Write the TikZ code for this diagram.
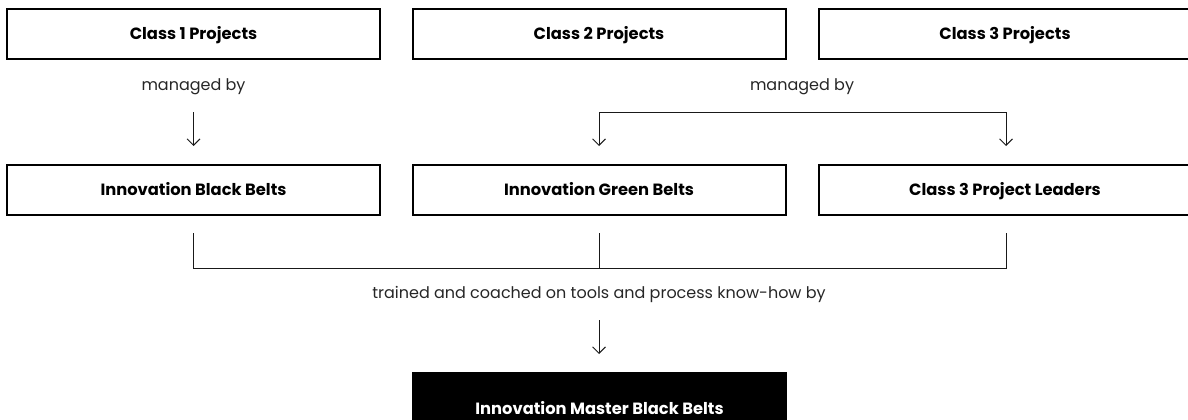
\documentclass[tikz,border=0pt]{standalone}
\usepackage{fontspec}
\setmainfont{Poppins}
\usetikzlibrary{arrows.meta}
\begin{document}
\begin{tikzpicture}[x=1pt,y=-1pt,
  box/.style={draw=black, line width=2pt, minimum width=373pt, minimum height=50pt, inner sep=0pt,
    text height=11.5pt, text depth=0pt,
    font=\fontsize{16.3}{18}\selectfont\bfseries},
  darkbox/.style={fill=black, text=white, minimum width=375pt, minimum height=74pt, inner sep=0pt,
    text height=11.5pt, text depth=0pt,
    font=\fontsize{16.3}{18}\selectfont\bfseries},
  lbl/.style={font=\fontsize{16}{18}\selectfont, text=black!85, inner sep=0pt,
    text height=11.5pt, text depth=0pt},
  conn/.style={line width=0.9pt, draw=black!90},
  arr/.style={conn, -{Straight Barb[length=6.5pt, width=13pt, line width=0.9pt]}},
  arrb/.style={conn, {Straight Barb[length=6.5pt, width=13pt, line width=0.9pt]}-{Straight Barb[length=6.5pt, width=13pt, line width=0.9pt]}}
]
\useasboundingbox (0,0) rectangle (1188,420);
\begin{scope}
\clip (0,0) rectangle (1188,420);
% top row
\node[box] (c1) at (193.5,34) {Class 1 Projects};
\node[box] (c2) at (599,34) {Class 2 Projects};
\node[box] (c3) at (1005,34) {Class 3 Projects};
% second row
\node[box] (b1) at (193.5,190) {Innovation Black Belts};
\node[box] (b2) at (599,190) {Innovation Green Belts};
\node[box] (b3) at (1005,190) {Class 3 Project Leaders};
% bottom
\node[darkbox] (mbb) at (599.5,409) {Innovation Master Black Belts};
% labels
\node[lbl] (m1) at (193.5,85) {managed by};
\node[lbl] (m2) at (802,85) {managed by};
\node[lbl] (tr) at (599,293) {trained and coached on tools and process know-how by};
% coordinates
\coordinate (a1s) at (193.5,112);
\coordinate (a1e) at (193.5,146);
\coordinate (f2) at (599,146);
\coordinate (f3) at (1006,146);
\coordinate (fy) at (0,112);
\coordinate (j1) at (193.5,233);
\coordinate (j2) at (599,233);
\coordinate (j3) at (1006,233);
\coordinate (jy) at (0,268);
\coordinate (a3s) at (599,320);
\coordinate (a3e) at (599,354);
% connectors
\draw[arr] (a1s) -- (a1e);
\draw[arrb] (f2) -- (f2 |- fy) -- (f3 |- fy) -- (f3);
\draw[conn] (j1) -- (j1 |- jy) -- (j3 |- jy) -- (j3);
\draw[conn] (j2) -- (j2 |- jy);
\draw[arr] (a3s) -- (a3e);
\end{scope}
\end{tikzpicture}
\end{document}
